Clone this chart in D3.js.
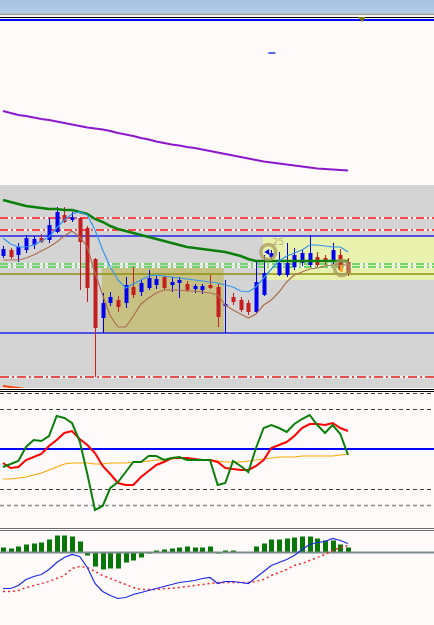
<!DOCTYPE html>
<html lang="en">
<head>
<meta charset="utf-8">
<title>chart</title>
<script src="https://cdn.jsdelivr.net/npm/d3@7"></script>
<style>
  body{margin:0;background:#fffafa;}
  svg{display:block;}
</style>
</head>
<body>
<script>
// ---- data ----
var opens  = [1.0929,1.0935,1.0930,1.0935,1.0940,1.0947,1.0945,1.0953,1.0970,1.0965,1.0967,1.0957,1.0926,1.0867,1.0882,1.0885,1.0882,1.0898,1.0893,1.0897,1.0900,1.0908,1.0900,1.0902,1.0901,1.0896,1.0895,1.0900,1.0898,1.0879,1.0888,1.0885,1.0882,1.0873,1.0890,1.0928,1.0910,1.0910,1.0918,1.0922,1.0920,1.0928,1.0927,1.0923,1.0930,1.0923];
var highs  = [1.0939,1.0937,1.0942,1.0950,1.0949,1.0951,1.0967,1.0978,1.0978,1.0973,1.0968,1.0959,1.0927,1.0892,1.0893,1.0889,1.0908,1.0918,1.0906,1.0915,1.0909,1.0909,1.0908,1.0908,1.0904,1.0901,1.0901,1.0910,1.0901,1.0905,1.0892,1.0888,1.0885,1.0925,1.0930,1.0935,1.0933,1.0942,1.0937,1.0935,1.0950,1.0933,1.0930,1.0942,1.0936,1.0927];
var lows   = [1.0927,1.0926,1.0923,1.0932,1.0936,1.0942,1.0942,1.0952,1.0962,1.0963,1.0895,1.0883,1.0808,1.0852,1.0879,1.0873,1.0877,1.0887,1.0889,1.0895,1.0896,1.0895,1.0893,1.0887,1.0893,1.0892,1.0891,1.0896,1.0858,1.0852,1.0880,1.0873,1.0870,1.0872,1.0889,1.0926,1.0909,1.0908,1.0915,1.0919,1.0918,1.0918,1.0920,1.0921,1.0913,1.0909];
var closes = [1.0936,1.0928,1.0938,1.0947,1.0946,1.0943,1.0960,1.0973,1.0963,1.0968,1.0943,1.0897,1.0857,1.0882,1.0888,1.0878,1.0900,1.0890,1.0902,1.0907,1.0906,1.0897,1.0903,1.0905,1.0895,1.0899,1.0899,1.0897,1.0868,1.0881,1.0883,1.0875,1.0873,1.0903,1.0912,1.0932,1.0922,1.0922,1.0930,1.0932,1.0932,1.0920,1.0923,1.0935,1.0915,1.0912];

var maSlow  = [1.0985,1.0983,1.0981,1.0979,1.0978,1.0977,1.0976,1.0976,1.0975,1.0975,1.0973,1.0971,1.0966,1.0963,1.0959,1.0956,1.0954,1.0952,1.0950,1.0948,1.0946,1.0944,1.0942,1.0940,1.0938,1.0937,1.0936,1.0935,1.0934,1.0933,1.0931,1.0929,1.0926,1.0924,1.0924,1.0924,1.0924,1.0924,1.0924,1.0924,1.0924,1.0924,1.0924,1.0924,1.0924,1.0924];
var maFast  = [1.0947,1.0941,1.0938,1.0938,1.0940,1.0944,1.0948,1.0957,1.0965,1.0971,1.0973,1.0970,1.0955,1.0935,1.0918,1.0905,1.0897,1.0901,1.0905,1.0909,1.0910,1.0909,1.0908,1.0907,1.0906,1.0905,1.0904,1.0903,1.0902,1.0900,1.0898,1.0894,1.0893,1.0898,1.0907,1.0916,1.0924,1.0929,1.0932,1.0935,1.0940,1.0940,1.0939,1.0938,1.0938,1.0933];
var maLow   = [1.0925,1.0925,1.0925,1.0927,1.0930,1.0934,1.0938,1.0943,1.0949,1.0954,1.0948,1.0938,1.0912,1.0890,1.0869,1.0858,1.0858,1.0869,1.0881,1.0887,1.0892,1.0895,1.0895,1.0895,1.0894,1.0894,1.0893,1.0892,1.0890,1.0880,1.0875,1.0871,1.0867,1.0871,1.0880,1.0885,1.0893,1.0903,1.0910,1.0913,1.0916,1.0917,1.0919,1.0920,1.0920,1.0920];
var maLong  = [1.1074,1.1072,1.1070,1.1069,1.10675,1.1066,1.1065,1.10635,1.1062,1.10605,1.1059,1.10575,1.10565,1.10555,1.1054,1.1052,1.10505,1.1049,1.1047,1.10455,1.10435,1.1042,1.10405,1.10395,1.1038,1.1037,1.10355,1.1034,1.10325,1.1031,1.10295,1.1028,1.10265,1.1025,1.10235,1.10225,1.10215,1.10205,1.10195,1.10185,1.10175,1.10165,1.1016,1.10155,1.1015,1.10145];
var maFloor = [1.0799,1.0798,1.0797,1.0796,1.0795,1.0794];

var redLevels   = [1.0967, 1.0955];
var floorLevel  = [1.0808];
var blueLevels  = [1.0949, 1.0852];
var greenLevels = [1.0921, 1.0918];
var oliveLevels = [1.0911];

var grayZone  = [1.1000, 1.0797];
var khakiZone = [12.9, 28.8, 1.0917, 1.0852];
var limeZone  = [33.9, 1.0948, 1.0905];
var marks     = [[34.6, 1.0933], [44.2, 1.0917]];
var markLabel = "25";
var topTick   = [35, 1.1132];

var oscMain = [41,42.5,44,51,54.5,54,56.5,66.5,65.5,63,54,37.5,19.5,21.5,30.5,33.5,38.5,43.5,43.5,46.5,46.5,44.5,45.5,46,44.5,44.5,44.5,44.5,32,33,44,41.5,38.5,50.5,60.5,62,60.5,58.5,62.5,65,67,62,58,62,57.5,47];
var oscSig  = [43,40.5,41,44.5,46,47.5,51.5,54.5,58,59,55,52,48,41.5,37.5,33,32,32,36,39,42,43.5,45.5,45.5,45.5,45,44.5,44.5,43.5,40.5,40,39.5,39.5,41.5,44.5,50.5,52,53.5,56.5,60.5,62.5,62.5,62,63,60.5,59];
var oscSlow = [35,35,35.5,36,37,38,39.5,41,42.5,43,43,43,42.5,42.5,43,43,43,43.5,43.5,44,44.5,44.5,45,45.5,45.5,45,44.5,44.5,44,43.5,43.5,43.5,44,44.5,45,45.5,46,46,46,46.5,46.5,46.5,46.5,46.5,47,47.5];
var oscDash  = [78, 70, 30, 22];
var oscMid   = [50];

var histo   = [0.5,0.4,0.6,0.8,0.9,1.0,1.3,1.7,1.7,1.6,1.1,-0.3,-1.4,-1.7,-1.6,-1.6,-1.0,-0.8,-0.5,-0.1,0.2,0.3,0.4,0.5,0.6,0.5,0.5,0.6,-0.1,0.2,0.2,0,0,0.6,0.9,1.3,1.3,1.4,1.5,1.6,1.6,1.4,1.2,1.2,0.8,0.5];
var macd    = [-3.6,-3.6,-3.3,-2.7,-2.4,-2.2,-1.7,-1.0,-0.5,-0.2,-0.4,-1.5,-3.1,-3.9,-4.3,-4.6,-4.5,-4.2,-4.0,-3.8,-3.6,-3.4,-3.2,-3.0,-2.9,-2.8,-2.6,-2.5,-3.1,-2.9,-2.9,-3.0,-3.1,-2.5,-1.9,-1.3,-1.0,-0.7,-0.3,0.3,0.8,1.0,1.1,1.4,1.2,0.9];
var signal  = [-3.9,-3.9,-3.8,-3.5,-3.3,-3.1,-2.9,-2.6,-2.3,-1.6,-1.4,-1.5,-1.9,-2.3,-2.6,-2.9,-3.2,-3.5,-3.7,-3.7,-3.7,-3.6,-3.6,-3.5,-3.4,-3.3,-3.2,-3.1,-3.0,-3.0,-3.0,-3.0,-3.0,-2.9,-2.7,-2.3,-2.0,-1.7,-1.3,-1.1,-0.8,-0.5,-0.2,0.2,0.5,0.7];

// ---- layout ----
var w = 434, h = 625;
var N = closes.length;

var x = d3.scaleLinear().domain([0, N - 1]).range([3, 348]);
var y = d3.scaleLinear().domain([1.1163, 1.0797]).range([22, 388]);
var yOsc = d3.scaleLinear().domain([78, 22]).range([393, 505]);
var yMacd = d3.scaleLinear().domain([0, -7]).range([552.5, 622.5]);

var svg = d3.select("body").append("svg")
    .attr("width", w).attr("height", h);

var defs = svg.append("defs");
var grad = defs.append("linearGradient").attr("id", "cap")
    .attr("x1", 0).attr("y1", 0).attr("x2", 0).attr("y2", 1);
grad.append("stop").attr("offset", "0%").attr("stop-color", "#a3c0de");
grad.append("stop").attr("offset", "100%").attr("stop-color", "#b3cde8");

function clip(id, y0, y1) {
  defs.append("clipPath").attr("id", id)
    .append("rect").attr("x", 0).attr("y", y0).attr("width", w).attr("height", y1 - y0);
}
clip("cMain", 22, 388);
clip("cOsc", 392, 527);
clip("cMacd", 532, 625);

// window chrome
svg.append("rect").attr("x", 0).attr("y", 0).attr("width", w).attr("height", h).attr("fill", "#fffafa");
svg.append("rect").attr("x", 0).attr("y", 0).attr("width", w).attr("height", 13.5).attr("fill", "url(#cap)");
svg.append("rect").attr("x", 0).attr("y", 13.5).attr("width", w).attr("height", 1.6).attr("fill", "#9c9c9c");
svg.append("line").attr("x1", 0).attr("x2", w).attr("y1", 17.5).attr("y2", 17.5).attr("stroke", "#000").attr("stroke-width", 1);
svg.append("line").attr("x1", 0).attr("x2", w).attr("y1", 20).attr("y2", 20).attr("stroke", "#0000ff").attr("stroke-width", 2);
svg.append("path").attr("d", "M358,17 L366,17 L362,22 Z").attr("fill", "#7a7a00");

// ---- main pane ----
var main = svg.append("g").attr("clip-path", "url(#cMain)");
var line = d3.line().x(function(d, i){ return x(i); }).y(function(d){ return y(d); });
var cx = function(i){ return Math.round(x(i)); };

main.append("rect").attr("x", 0).attr("width", w)
  .attr("y", y(grayZone[0])).attr("height", y(grayZone[1]) - y(grayZone[0]))
  .attr("fill", "#d4d4d4");
main.append("rect").attr("x", x(limeZone[0])).attr("width", w - x(limeZone[0]))
  .attr("y", y(limeZone[1])).attr("height", y(limeZone[2]) - y(limeZone[1]))
  .attr("fill", "#e9f2ad");
main.append("rect").attr("x", x(khakiZone[0])).attr("width", x(khakiZone[1]) - x(khakiZone[0]))
  .attr("y", y(khakiZone[2])).attr("height", y(khakiZone[3]) - y(khakiZone[2]))
  .attr("fill", "#c7c184");

function levels(vals, color, width, dash, under) {
  vals.forEach(function(v){
    if (under) {
      main.append("line").attr("x1", 0).attr("x2", w).attr("y1", y(v)).attr("y2", y(v))
        .attr("stroke", "#f4f4f4").attr("stroke-width", width + 0.5);
    }
    main.append("line").attr("x1", 0).attr("x2", w).attr("y1", y(v)).attr("y2", y(v))
      .attr("stroke", color).attr("stroke-width", width)
      .attr("stroke-dasharray", dash);
  });
}
levels(redLevels, "#ff1010", 1.3, "8,3,2,3", true);
levels(floorLevel, "#e55050", 2, "9,3,2,3", true);
levels(greenLevels, "#44cc44", 1.3, "8,3,2,3", true);
levels(oliveLevels, "#8f8f10", 1.3, null, false);
levels(blueLevels, "#2424e8", 1.5, null, false);

// candles
var candle = main.selectAll("g.candle").data(d3.range(N)).enter().append("g");
candle.append("line")
  .attr("x1", function(i){ return cx(i) + 0.5; }).attr("x2", function(i){ return cx(i) + 0.5; })
  .attr("y1", function(i){ return y(highs[i]); }).attr("y2", function(i){ return y(lows[i]); })
  .attr("stroke", function(i){ return closes[i] >= opens[i] ? "#0000ee" : "#c41e1e"; })
  .attr("stroke-width", 1);
candle.append("rect")
  .attr("x", function(i){ return cx(i) - 1.5; }).attr("width", 4)
  .attr("y", function(i){ return y(Math.max(opens[i], closes[i])); })
  .attr("height", function(i){ return Math.max(1, Math.abs(y(opens[i]) - y(closes[i]))); })
  .attr("fill", function(i){ return closes[i] >= opens[i] ? "#0000ee" : "#c41e1e"; });

// moving averages
main.append("path").datum(maLong).attr("d", line)
  .attr("fill", "none").attr("stroke", "#8c18cc").attr("stroke-width", 2);
main.append("path").datum(maSlow).attr("d", line)
  .attr("fill", "none").attr("stroke", "#0a800a").attr("stroke-width", 2.5);
main.append("path").datum(maLow).attr("d", line)
  .attr("fill", "none").attr("stroke", "#ad6e50").attr("stroke-width", 1.2);
main.append("path").datum(maFast).attr("d", line)
  .attr("fill", "none").attr("stroke", "#2f96f5").attr("stroke-width", 1.2);
main.append("path").datum(maFloor).attr("d", line)
  .attr("fill", "none").attr("stroke", "#ff4412").attr("stroke-width", 2);

// markers
main.selectAll("circle.mark").data(marks).enter().append("circle")
  .attr("cx", function(d){ return x(d[0]); }).attr("cy", function(d){ return y(d[1]); })
  .attr("r", 7.5).attr("fill", "none")
  .attr("stroke", "#a89a5a").attr("stroke-opacity", 0.75).attr("stroke-width", 3.5);
main.append("path")
  .attr("d", "M" + (x(marks[0][0]) - 4) + "," + y(marks[0][1]) + " l5,-3 l0,6 Z")
  .attr("fill", "#0000ee");
main.append("rect").attr("x", x(marks[1][0]) - 2).attr("y", y(marks[1][1]) - 3)
  .attr("width", 3).attr("height", 7).attr("fill", "#ffa028");
main.append("text").attr("x", x(marks[0][0]) + 10).attr("y", y(marks[0][1]) - 7)
  .attr("text-anchor", "middle").attr("font-family", "DejaVu Sans, sans-serif")
  .attr("font-size", 9).attr("fill", "#b5ad80").text(markLabel);
main.append("rect").attr("x", x(topTick[0]) - 3).attr("y", y(topTick[1]) - 1)
  .attr("width", 7).attr("height", 2).attr("fill", "#5566f0");

// separator
svg.append("line").attr("x1", 0).attr("x2", w).attr("y1", 389.5).attr("y2", 389.5).attr("stroke", "#000");
svg.append("line").attr("x1", 0).attr("x2", w).attr("y1", 391.5).attr("y2", 391.5).attr("stroke", "#000");

// ---- oscillator pane ----
var osc = svg.append("g").attr("clip-path", "url(#cOsc)");
var oline = d3.line().x(function(d, i){ return x(i); }).y(function(d){ return yOsc(d); });

osc.selectAll("line.lvl").data(oscDash).enter().append("line")
  .attr("x1", 0).attr("x2", w)
  .attr("y1", function(d){ return Math.round(yOsc(d)) + 0.5; })
  .attr("y2", function(d){ return Math.round(yOsc(d)) + 0.5; })
  .attr("stroke", function(d, i){ return i == 3 ? "#8c8c8c" : "#444"; })
  .attr("stroke-width", function(d, i){ return i == 3 ? 1.6 : 1; })
  .attr("stroke-dasharray", "4,3");
osc.selectAll("line.mid").data(oscMid).enter().append("line")
  .attr("x1", 0).attr("x2", w)
  .attr("y1", function(d){ return yOsc(d); }).attr("y2", function(d){ return yOsc(d); })
  .attr("stroke", "#0000ff").attr("stroke-width", 2);

osc.append("path").datum(oscSlow).attr("d", oline)
  .attr("fill", "none").attr("stroke", "#ffa500").attr("stroke-width", 1.2);
osc.append("path").datum(oscSig).attr("d", oline)
  .attr("fill", "none").attr("stroke", "#ff0000").attr("stroke-width", 2);
osc.append("path").datum(oscMain).attr("d", oline)
  .attr("fill", "none").attr("stroke", "#0a800a").attr("stroke-width", 2);

// separator
svg.append("line").attr("x1", 0).attr("x2", w).attr("y1", 528.5).attr("y2", 528.5).attr("stroke", "#6e6e6e").attr("stroke-width", 1.2);
svg.append("line").attr("x1", 0).attr("x2", w).attr("y1", 530.5).attr("y2", 530.5).attr("stroke", "#6e6e6e").attr("stroke-width", 1.2);

// ---- macd pane ----
var mg = svg.append("g").attr("clip-path", "url(#cMacd)");
var mline = d3.line().x(function(d, i){ return x(i); }).y(function(d){ return yMacd(d); });

mg.selectAll("rect.bar").data(histo).enter().append("rect")
  .attr("x", function(d, i){ return cx(i) - 2; }).attr("width", 5)
  .attr("y", function(d){ return Math.min(yMacd(d), yMacd(0)); })
  .attr("height", function(d){ return Math.abs(yMacd(d) - yMacd(0)); })
  .attr("fill", "#077807");
mg.append("line").attr("x1", 0).attr("x2", w).attr("y1", yMacd(0)).attr("y2", yMacd(0))
  .attr("stroke", "#7a8c8c").attr("stroke-width", 2);
mg.append("path").datum(signal).attr("d", mline)
  .attr("fill", "none").attr("stroke", "#ff2020").attr("stroke-width", 1.5)
  .attr("stroke-dasharray", "2,3");
mg.append("path").datum(macd).attr("d", mline)
  .attr("fill", "none").attr("stroke", "#1c28ee").attr("stroke-width", 1.2);
</script>
</body>
</html>
